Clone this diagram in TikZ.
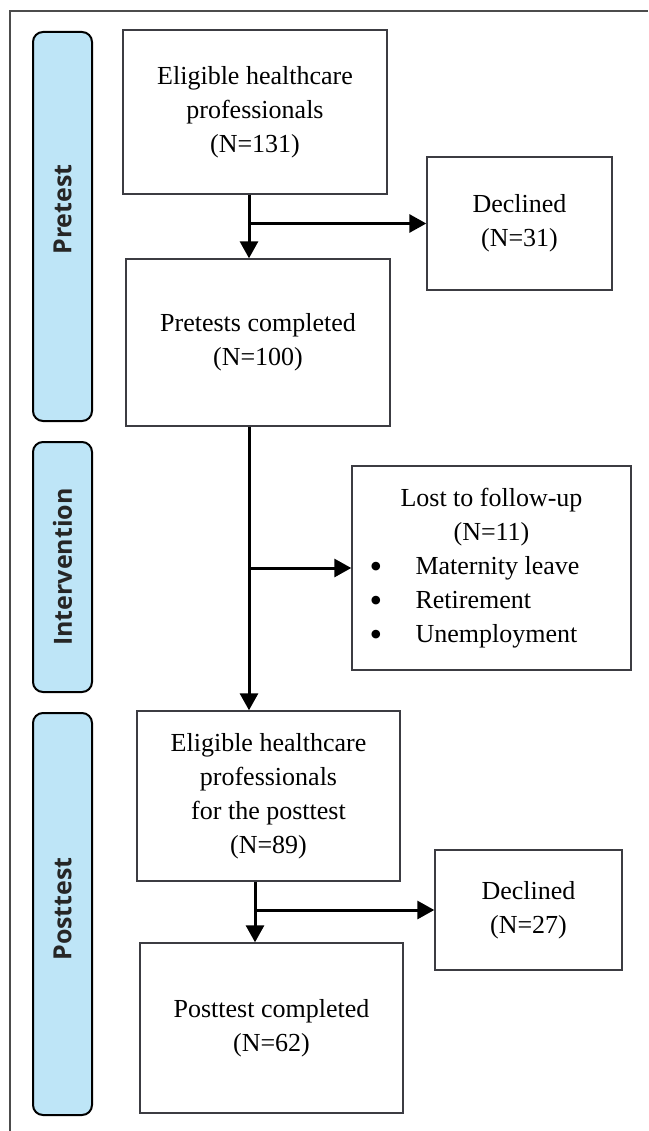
\documentclass[tikz,border=0pt]{standalone}
\usepackage{fontspec}
\setmainfont{Liberation Serif}
\newfontfamily\barfont{Open Sans}
\usetikzlibrary{arrows.meta}
\definecolor{barblue}{RGB}{190,229,247}
\definecolor{boxline}{RGB}{60,60,66}
\newcommand{\lostitem}[1]{\makebox[244pt][l]{\makebox[46pt][l]{\smash{\raisebox{-4pt}{\fontsize{36}{34}\selectfont\textbullet}}}#1}}

\begin{document}
\begin{tikzpicture}[x=1pt,y=-1pt]
      \tikzstyle{every node}=[font=\fontsize{26}{34}\selectfont,inner sep=0pt]
      \tikzstyle{box}=[draw=boxline,line width=1.4pt,align=center]
      \tikzstyle{phase}=[draw=black,line width=2pt,fill=barblue,rounded corners=10pt,
        rotate=90,minimum height=59pt,text=black!85,
        font=\barfont\bfseries\fontsize{25}{30}\selectfont]
      \tikzstyle{flow}=[line width=3pt,-{Triangle[length=17pt,width=18pt]}]
      \useasboundingbox (0,0) rectangle (648,1131);
      % frame, only top and left edges show
      \draw[line width=1.5pt,black!70] (10,1131) -- (10,11) -- (648,11);
      %
      \node [phase,minimum width=389pt] (barpre)  at (62.5,226.5) {\hspace*{34pt}Pretest};
      \node [phase,minimum width=250pt] (barint)  at (62.5,567)   {Intervention};
      \node [phase,minimum width=402pt] (barpost) at (62.5,914)   {\hspace*{10pt}Posttest};
      %
      \node [box,minimum width=264pt,minimum height=164pt] (elig)     at (255,112)    {Eligible healthcare\\professionals\\(N=131)};
      \node [box,minimum width=185pt,minimum height=133pt] (decl1)    at (519.5,223.5) {Declined\\(N=31)};
      \node [box,minimum width=264pt,minimum height=167pt] (pre)      at (258,342.5)  {Pretests completed\\(N=100)};
      \node [box,minimum width=279pt,minimum height=204pt] (lost)     at (491.5,568)  {Lost to follow-up\\(N=11)\\
        \lostitem{Maternity leave}\\\lostitem{Retirement}\\\lostitem{Unemployment}};
      \node [box,minimum width=263pt,minimum height=170pt] (eligpost) at (268.5,796)  {Eligible healthcare\\professionals\\for the posttest\\(N=89)};
      \node [box,minimum width=187pt,minimum height=120pt] (decl2)    at (528.5,910)  {Declined\\(N=27)};
      \node [box,minimum width=263pt,minimum height=170pt] (postdone) at (271.5,1028) {Posttest completed\\(N=62)};
      %
      \coordinate (spineA) at (249,0);
      \coordinate (spineB) at (255,0);
      \draw [flow] (elig.south -| spineA)     -- (pre.north -| spineA);
      \draw [flow] (decl1.west -| spineA)     -- (decl1.west);
      \draw [flow] (pre.south -| spineA)      -- (eligpost.north -| spineA);
      \draw [flow] (lost.west -| spineA)      -- (lost.west);
      \draw [flow] (eligpost.south -| spineB) -- (postdone.north -| spineB);
      \draw [flow] (decl2.west -| spineB)     -- (decl2.west);
\end{tikzpicture}
\end{document}
